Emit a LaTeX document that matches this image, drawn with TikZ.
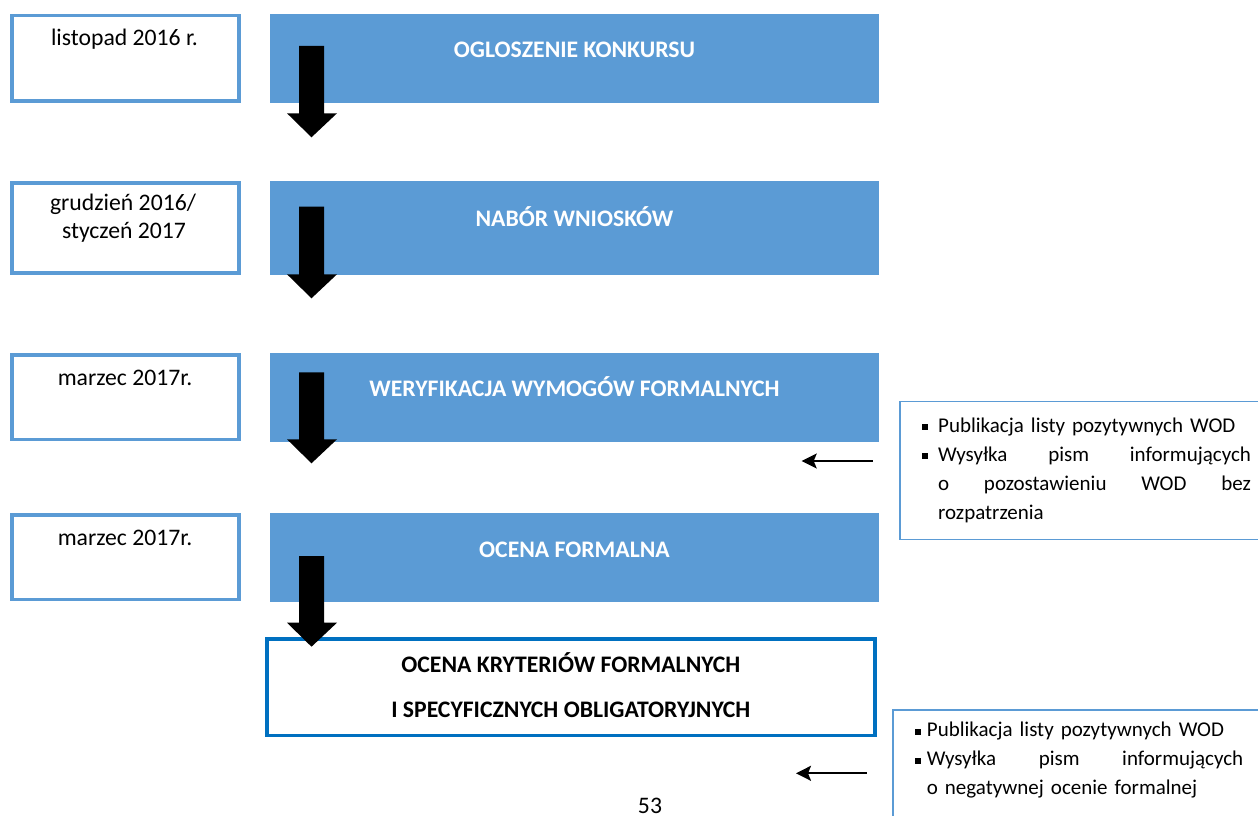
\documentclass[tikz,border=0pt]{standalone}
\usepackage{fontspec}
\setmainfont{Carlito}
\newfontfamily\notefont{Carlito}[WordSpace=0.8]
\usetikzlibrary{arrows.meta}
\definecolor{accblue}{HTML}{5B9BD5}
\definecolor{darkblue}{HTML}{0070C0}
\newcommand{\sqbullet}[1]{\leavevmode\llap{\rule[2pt]{6pt}{6pt}\hspace{#1}}}
\newcommand{\jline}[1]{\leavevmode\hbox to\linewidth{#1}}
\newcommand{\nline}[1]{\leavevmode\hbox{#1}}
\begin{document}
\begin{tikzpicture}[x=1pt,y=-1pt,
  datebox/.style={draw=accblue, line width=3.5pt, fill=white, inner sep=0pt, minimum width=227.2pt},
  stagebox/.style={fill=accblue, inner sep=0pt, minimum width=609pt},
  datetext/.style={font=\fontsize{23.7}{29}\selectfont, anchor=base, inner sep=0pt},
  stagetext/.style={font=\fontsize{23.7}{29}\selectfont\bfseries, text=white, anchor=base, inner sep=0pt},
  finalbox/.style={draw=darkblue, line width=3.5pt, fill=white, inner sep=0pt, minimum width=608.2pt, minimum height=96.5pt},
  finaltext/.style={font=\fontsize{23.7}{29}\selectfont\bfseries, anchor=base, inner sep=0pt},
  notebox/.style={draw=accblue, line width=1.5pt, fill=white, inner sep=0pt},
  notetext/.style={font=\notefont\fontsize{21}{29}\selectfont, anchor=base west, inner sep=0pt, align=left},
  flowarrow/.style={fill=black},
  backarrow/.style={draw=black, line width=2pt, -{Stealth[length=15pt,width=15pt,inset=3pt]}}
]
\useasboundingbox (0,0) rectangle (1258,816);
\fill[white] (0,0) rectangle (1258,816);
\clip (0,0) rectangle (1258,816);

% date boxes
\node[datebox, minimum height=85.2pt] (d1) at (125.35,58.35) {};
\node[datebox, minimum height=90.2pt] (d2) at (125.35,227.85) {};
\node[datebox, minimum height=84.2pt] (d3) at (125.35,397.15) {};
\node[datebox, minimum height=84.2pt] (d4) at (125.35,557.15) {};
\node[datetext] (t1) at (124.5,46) {listopad 2016 r.};
\node[datetext] (t2a) at (123,210) {grudzień 2016/};
\node[datetext] (t2b) at (124,238.5) {styczeń 2017};
\node[datetext] (t3) at (125,385) {marzec 2017r.};
\node[datetext] (t4) at (125,545) {marzec 2017r.};

% stage boxes
\node[stagebox, minimum height=88.7pt] (s1) at (574.5,58.35) {};
\node[stagebox, minimum height=93.7pt] (s2) at (574.5,227.85) {};
\node[stagebox, minimum height=88.4pt] (s3) at (574.5,397.5) {};
\node[stagebox, minimum height=88.4pt] (s4) at (574.5,557.5) {};
\node[stagetext] (st1) at (574.5,57.3) {OGLOSZENIE KONKURSU};
\node[stagetext] (st2) at (574.5,226.5) {NABÓR WNIOSKÓW};
\node[stagetext] (st3) at (574.5,396) {WERYFIKACJA WYMOGÓW FORMALNYCH};
\node[stagetext] (st4) at (574.5,557.5) {OCENA FORMALNA};

% final box
\node[finalbox] (f) at (570.85,687.3) {};
\node[finaltext] (f1) at (570.8,672.7) {OCENA KRYTERIÓW FORMALNYCH};
\node[finaltext] (f2) at (570.8,717.3) {I SPECYFICZNYCH OBLIGATORYJNYCH};

% block arrows
\foreach \top/\tip in {46/137.3, 206.7/298.3, 372.3/463.3, 556/646.7}{
  \fill[flowarrow] (299,\top) -- (324,\top) -- (324,\tip-24) -- (337,\tip-24)
    -- (311.5,\tip) -- (287,\tip-24) -- (299,\tip-24) -- cycle;
}

% note boxes
\node[notebox, minimum width=370.25pt, minimum height=137.8pt] (n1) at (1084.9,470.35) {};
\node[notetext, text width=312.7pt] (n1t) at (938,432.3) {%
\sqbullet{10.3pt}\hbox{Publikacja listy pozytywnych WOD}\\
\sqbullet{10.3pt}\hbox to\linewidth{Wysyłka\hfill pism\hfill informujących}\\
\jline{o\hfill pozostawieniu\hfill WOD\hfill bez}\\
\nline{rozpatrzenia}};

\node[notebox, minimum width=376.9pt, minimum height=130.3pt] (n2) at (1081.5,774.9) {};
\node[notetext, text width=316.3pt] (n2t) at (926.7,736.7) {%
\sqbullet{5.7pt}\hbox{Publikacja listy pozytywnych WOD}\\
\sqbullet{5.7pt}\hbox to\linewidth{Wysyłka\hfill pism\hfill informujących}\\
\nline{o negatywnej ocenie formalnej}};

% back arrows
\coordinate (a1s) at (872.7,461);
\coordinate (a1e) at (801.7,461);
\coordinate (a2s) at (866.7,773.3);
\coordinate (a2e) at (796,773.3);
\draw[backarrow] (a1s) -- (a1e);
\draw[backarrow] (a2s) -- (a2e);

% page number
\node[datetext] (pg) at (650,813) {53};
\end{tikzpicture}
\end{document}
